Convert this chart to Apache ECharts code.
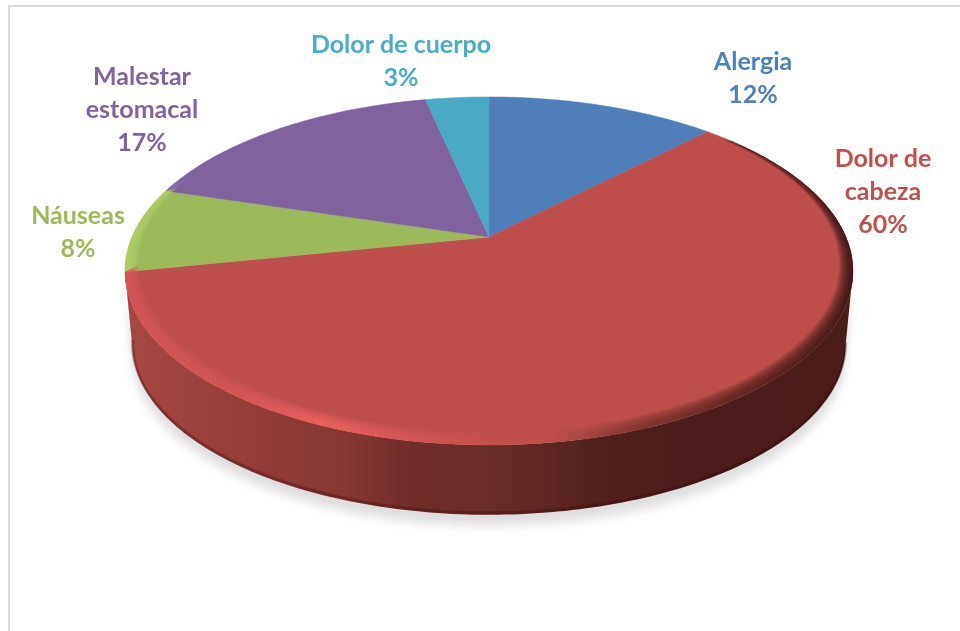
<!DOCTYPE html>
<html><head><meta charset="utf-8">
<style>html,body{margin:0;padding:0;background:#fff}#c{width:960px;height:631px}</style>
<script src="https://cdn.jsdelivr.net/npm/echarts@6/dist/echarts.min.js"></script>
</head><body><div id="c"></div>
<script>
// Data
var categories = ['Alergia', 'Dolor de cabeza', 'Náuseas', 'Malestar estomacal', 'Dolor de cuerpo'];
var values = [12.3, 59.5, 7.9, 16.9, 3.4];
var labelLines = [['Alergia'], ['Dolor de', 'cabeza'], ['Náuseas'], ['Malestar', 'estomacal'], ['Dolor de cuerpo']];

// Style
var faceColors = ['#4e7fbb', '#be4f4c', '#9cba5a', '#80629f', '#4aa9c4'];
var textColors = ['#4f81bd', '#c0504d', '#9bbb59', '#8064a2', '#4bacc6'];
var labelAnchors = [[753, 78], [883, 192], [78, 232], [142, 110], [401, 61]];
var view = {cx: 489, cy: 237, R: 357, A: 167.4, k: 0.195, backY: 97, depth: 74, baseScale: 0.98, rimScale: 0.962, rimFrom: 50, rimTo: 290};
var total = values.reduce(function (a, b) { return a + b; }, 0);

function project(deg) {
  var t = deg * Math.PI / 180, u = Math.sin(t), v = -Math.cos(t), s = 1 / (1 - view.k * v);
  return [view.cx + view.R * u * s, view.cy + view.A * v * s];
}
function rimPoint(deg, s) {
  var p = project(deg);
  return [view.cx + (p[0] - view.cx) * s, view.backY + (p[1] - view.backY) * s];
}
function basePoint(deg) {
  var p = project(deg);
  return [view.cx + (p[0] - view.cx) * view.baseScale,
          view.cy + (p[1] - view.cy) * view.baseScale + view.depth];
}
function arc(a, b, fn) {
  var pts = [], n = Math.max(2, Math.ceil(b - a));
  for (var i = 0; i <= n; i++) pts.push(fn(a + (b - a) * i / n));
  return pts;
}
function hex(c) { return [1, 3, 5].map(function (i) { return parseInt(c.substr(i, 2), 16); }); }
function mix(c, to, t) {
  var a = hex(c), b = hex(to), r = a.map(function (x, i) { return Math.round(x + (b[i] - x) * t); });
  return 'rgb(' + r.join(',') + ')';
}
function scaleColor(c, f) {
  return 'rgb(' + hex(c).map(function (x) { return Math.min(255, Math.round(x * f)); }).join(',') + ')';
}
function hGrad(stops) {
  return new echarts.graphic.LinearGradient(125, 0, 853, 0, stops, true);
}

var rimSteps = 12, rimAlpha = 0.15;
var wallStops = [
  {offset: 0, color: '#a64744'}, {offset: 0.2, color: '#913b39'}, {offset: 0.3, color: '#873734'},
  {offset: 0.4, color: '#712c2a'}, {offset: 0.52, color: '#682a28'}, {offset: 0.65, color: '#52201d'},
  {offset: 0.78, color: '#4a1c1b'}, {offset: 1, color: '#4a1c1a'}
];

function renderItem(params, api) {
  var i = params.dataIndex, val = api.value(0), start = 0;
  for (var j = 0; j < i; j++) start += values[j];
  var a = start / total * 360, b = (start + val) / total * 360;
  var col = faceColors[i], kids = [];

  // Side wall: only the part of the edge that faces the viewer
  var tangent = Math.acos(view.k) * 180 / Math.PI;
  var wa = Math.max(a, 180 - tangent), wb = Math.min(b, 180 + tangent + 0.6);
  if (wb > wa) {
    var top = arc(wa, wb, project);
    var bot = arc(wa, wb, basePoint);
    kids.push({type: 'polygon', z2: 1, shape: {points: top.concat(bot.slice().reverse())},
      style: {fill: hGrad(wallStops), shadowBlur: 10, shadowColor: 'rgba(0,0,0,0.13)', shadowOffsetY: 11}});
    kids.push({type: 'polyline', z2: 2, shape: {points: bot.map(function (p) { return [p[0], p[1] - 2]; })},
      style: {fill: null, stroke: 'rgba(45,8,8,0.3)', lineWidth: 3}});
  }

  // Top face
  var face = [[view.cx, view.cy]].concat(arc(a, b, project));
  kids.push({type: 'polygon', z2: 3, shape: {points: face}, style: {fill: col, stroke: col, lineWidth: 0.5}});

  // Rim bevel along the near edge, lit from the left and shaded to the right
  var ra = Math.max(a, view.rimFrom), rb = Math.min(b, view.rimTo);
  var lit = scaleColor(col, 1.12), litMax = scaleColor(col, 1.27), litEnd = scaleColor(col, 1.03);
  for (var s = 1; s <= rimSteps && rb > ra; s++) {
    var inner = 1 - (1 - view.rimScale) * s / rimSteps;
    var o = arc(ra, rb, function (d) { return rimPoint(d, 1); });
    var n = arc(ra, rb, function (d) { return rimPoint(d, inner); });
    kids.push({type: 'polygon', z2: 4, shape: {points: o.concat(n.reverse())},
      style: {opacity: rimAlpha, fill: hGrad([
        {offset: 0, color: lit}, {offset: 0.15, color: lit}, {offset: 0.27, color: litMax},
        {offset: 0.4, color: lit}, {offset: 0.5, color: litEnd}, {offset: 0.58, color: col},
        {offset: 0.7, color: mix(col, '#2a0a08', 0.45)}, {offset: 0.85, color: mix(col, '#2a0a08', 0.72)},
        {offset: 1, color: mix(col, '#1a0505', 0.88)}
      ])}});
  }

  // Label
  var pct = Math.round(val / total * 100) + '%';
  kids.push({type: 'text', z2: 5, style: {
    text: labelLines[i].concat(pct).join('\n'),
    x: labelAnchors[i][0], y: labelAnchors[i][1],
    fill: textColors[i], align: 'center', verticalAlign: 'middle',
    font: 'bold 25px Lato, "Open Sans", sans-serif', lineHeight: 33
  }});
  return {type: 'group', children: kids};
}

var chart = echarts.init(document.getElementById('c'), null, {renderer: 'canvas'});
chart.setOption({
  animation: false,
  backgroundColor: '#ffffff',
  graphic: [{type: 'polyline', silent: true, shape: {points: [[9, 631], [9, 6], [960, 6]]},
    style: {fill: null, stroke: '#dcdcdc', lineWidth: 2}}],
  series: [{
    type: 'custom', coordinateSystem: 'none', renderItem: renderItem, clip: false,
    data: values.map(function (v, i) { return {name: categories[i], value: [v]}; })
  }]
});
</script></body></html>
